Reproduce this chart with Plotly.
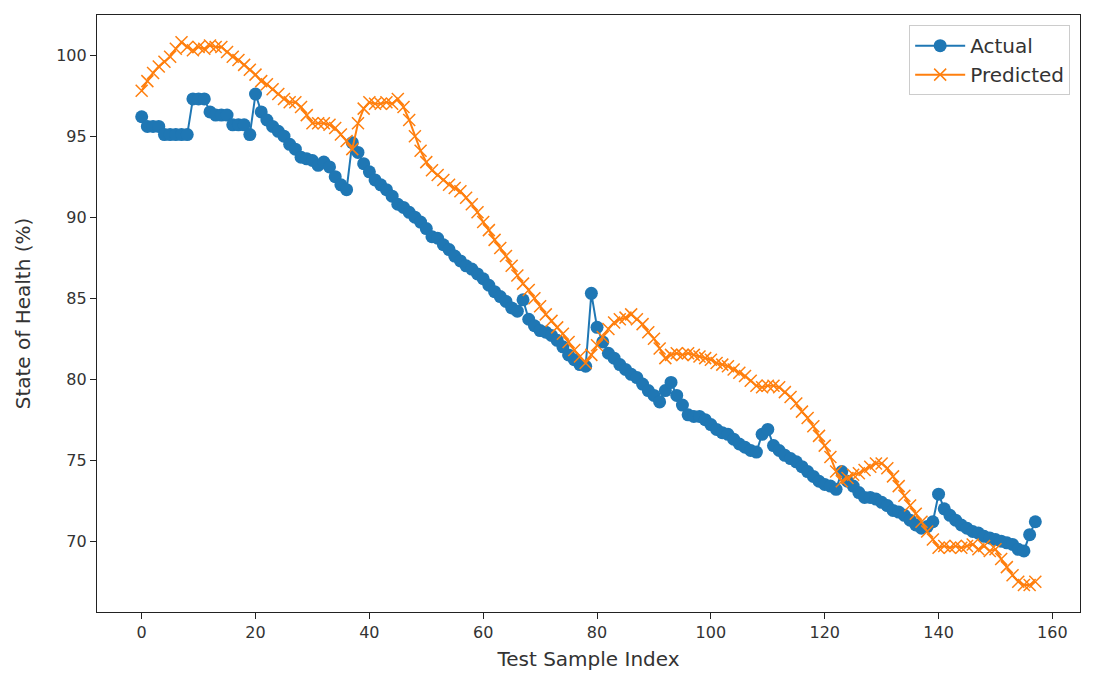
import plotly.graph_objects as go

# state of health values
sample_index = list(range(158))

actual_soh = [
    96.2, 95.6, 95.6, 95.6, 95.1, 95.1, 95.1, 95.1, 95.1, 97.3,
    97.3, 97.3, 96.5, 96.3, 96.3, 96.3, 95.7, 95.7, 95.7, 95.1,
    97.6, 96.5, 96.0, 95.6, 95.3, 95.0, 94.5, 94.2, 93.7, 93.6,
    93.5, 93.2, 93.4, 93.1, 92.5, 92.0, 91.7, 94.6, 94.0, 93.3,
    92.8, 92.3, 92.0, 91.7, 91.3, 90.8, 90.6, 90.3, 90.0, 89.7,
    89.3, 88.8, 88.7, 88.3, 88.0, 87.6, 87.3, 87.0, 86.8, 86.5,
    86.2, 85.8, 85.4, 85.1, 84.8, 84.4, 84.2, 84.9, 83.7, 83.3,
    83.0, 82.9, 82.7, 82.4, 82.0, 81.5, 81.2, 80.9, 80.8, 85.3,
    83.2, 82.3, 81.6, 81.3, 80.9, 80.6, 80.3, 80.1, 79.7, 79.3,
    79.0, 78.6, 79.3, 79.8, 79.0, 78.4, 77.8, 77.7, 77.7, 77.5,
    77.2, 76.9, 76.7, 76.6, 76.3, 76.0, 75.8, 75.6, 75.5, 76.6,
    76.9, 75.9, 75.6, 75.3, 75.1, 74.9, 74.6, 74.3, 74.0, 73.7,
    73.5, 73.4, 73.2, 74.3, 73.7, 73.4, 73.0, 72.7, 72.7, 72.6,
    72.4, 72.2, 71.9, 71.8, 71.6, 71.3, 71.0, 70.8, 70.9, 71.2,
    72.9, 72.0, 71.6, 71.3, 71.0, 70.8, 70.6, 70.5, 70.3, 70.2,
    70.1, 70.0, 69.9, 69.8, 69.5, 69.4, 70.4, 71.2,
]

predicted_soh = [
    97.8, 98.4, 98.9, 99.3, 99.6, 99.9, 100.4, 100.8, 100.5, 100.3,
    100.5, 100.4, 100.6, 100.5, 100.5, 100.2, 99.9, 99.7, 99.4, 99.1,
    98.8, 98.4, 98.2, 97.9, 97.6, 97.3, 97.1, 97.1, 96.8, 96.3,
    95.8, 95.8, 95.8, 95.7, 95.5, 95.1, 94.7, 94.2, 95.8, 96.7,
    97.1, 97.0, 97.0, 97.1, 97.0, 97.3, 96.8, 96.0, 95.0, 94.1,
    93.4, 92.9, 92.6, 92.3, 92.0, 91.8, 91.6, 91.2, 90.8, 90.3,
    89.7, 89.2, 88.6, 88.1, 87.6, 87.0, 86.4, 85.9, 85.5, 85.0,
    84.5, 84.0, 83.6, 83.2, 82.8, 82.3, 81.8, 81.4, 81.0, 81.5,
    82.1, 82.6, 83.1, 83.5, 83.7, 83.8, 84.0, 83.7, 83.4, 82.9,
    82.5, 81.9, 81.3, 81.5, 81.6, 81.5, 81.6, 81.5, 81.4, 81.3,
    81.2, 81.0, 80.9, 80.8, 80.6, 80.4, 80.2, 79.9, 79.6, 79.5,
    79.6, 79.6, 79.5, 79.2, 78.9, 78.5, 78.0, 77.6, 77.1, 76.5,
    75.9, 75.2, 74.3, 73.7, 73.9, 74.1, 74.2, 74.4, 74.6, 74.8,
    74.8, 74.5, 74.0, 73.4, 72.8, 72.2, 71.7, 71.2, 70.6, 70.1,
    69.6, 69.7, 69.6, 69.7, 69.6, 69.7, 69.8, 69.5, 69.7, 69.4,
    69.5, 68.9, 68.4, 67.9, 67.5, 67.3, 67.3, 67.5,
]

x_ticks = [0, 20, 40, 60, 80, 100, 120, 140, 160]
y_ticks = [70, 75, 80, 85, 90, 95, 100]

fig = go.Figure()

fig.add_trace(go.Scatter(
    x=sample_index, y=actual_soh, name='Actual',
    mode='lines+markers',
    line=dict(color='#1f77b4', width=2),
    marker=dict(symbol='circle', size=13, color='#1f77b4'),
))

fig.add_trace(go.Scatter(
    x=sample_index, y=predicted_soh, name='Predicted',
    mode='lines+markers',
    line=dict(color='#ff7f0e', width=2),
    marker=dict(symbol='x-thin', size=12,
                line=dict(color='#ff7f0e', width=1.5)),
))

# matplotlib-like axes: box frame, outside ticks, no grid
axis_style = dict(
    showline=True, linecolor='#222222', linewidth=1.2, mirror=True,
    ticks='outside', ticklen=6, tickcolor='#222222', tickwidth=1.2,
    showgrid=False, zeroline=False,
    tickfont=dict(family='DejaVu Sans', size=16, color='#333333'),
)

fig.update_xaxes(
    range=[-7.85, 164.85], tickvals=x_ticks,
    title=dict(text='Test Sample Index', standoff=10,
               font=dict(family='DejaVu Sans', size=20, color='#333333')),
    **axis_style
)
fig.update_yaxes(
    range=[65.63, 102.48], tickvals=y_ticks,
    title=dict(text='State of Health (%)', standoff=20,
               font=dict(family='DejaVu Sans', size=20, color='#333333')),
    **axis_style
)

# page body adds 8px, so the figure is a bit smaller than the window
fig.update_layout(
    width=1078, height=674,
    margin=dict(l=89, r=6, t=7, b=70),
    paper_bgcolor='white', plot_bgcolor='white',
    font=dict(family='DejaVu Sans', color='#333333'),
    legend=dict(
        x=0.99, y=0.983, xanchor='right', yanchor='top',
        bgcolor='rgba(255,255,255,0.8)', bordercolor='#cccccc', borderwidth=1,
        font=dict(family='DejaVu Sans', size=20, color='#333333'),
        itemwidth=50, tracegroupgap=2,
    ),
)

fig.write_html("out.html")
